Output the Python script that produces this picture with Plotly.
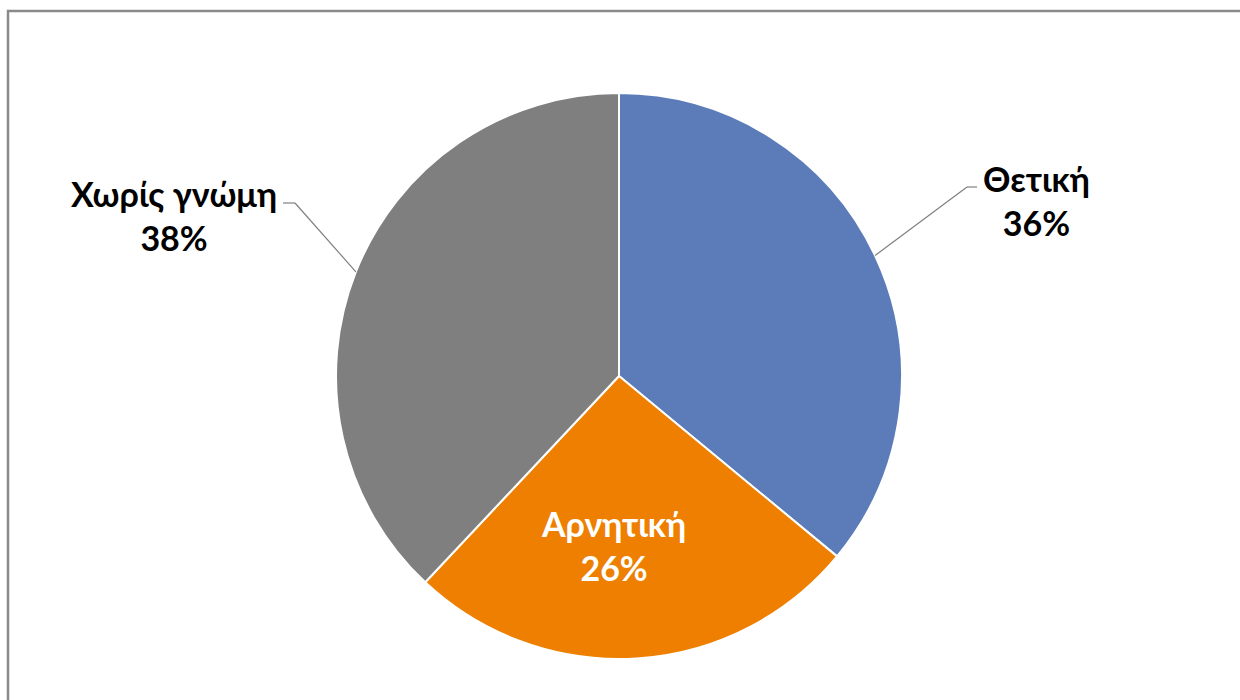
import math
import plotly.graph_objects as go

labels = ["Θετική", "Αρνητική", "Χωρίς γνώμη"]
values = [36, 26, 38]
colors = ["#5B7BB9", "#EE7F00", "#7F7F7F"]

W, H = 1240, 700
CX, CY, R = 619, 376, 283

FONT = "Lato, 'Open Sans', 'DejaVu Sans', sans-serif"
FSIZE = 34

# label placement (pixel layout, per slice): elbow point of leader and text anchor
label_layout = {
    "Θετική": dict(elbow=(967, 187), end=(977, 187), text=(981, 200), anchor="left"),
    "Χωρίς γνώμη": dict(elbow=(295, 203), end=(283, 203), text=(279, 216), anchor="right"),
}

fig = go.Figure(go.Pie(
    labels=labels, values=values, sort=False, direction="clockwise",
    rotation=0, marker=dict(colors=colors, line=dict(color="white", width=2)),
    textinfo="none", hoverinfo="label+percent", showlegend=False,
    domain=dict(x=[(CX - R) / W, (CX + R) / W], y=[1 - (CY + R) / H, 1 - (CY - R) / H]),
))

def px(x, y):
    return x / W, 1 - y / H

total = sum(values)
shapes = []
annotations = []
cum = 0
for lab, v in zip(labels, values):
    mid = (cum + v / 2) / total * 2 * math.pi
    cum += v
    pct = f"{round(v / total * 100)}%"
    sx, sy = math.sin(mid), -math.cos(mid)
    if lab not in label_layout:
        r = 0.6 * R
        x, y = px(CX + r * sx - 16, CY + r * sy)
        annotations.append(dict(x=x, y=y, xref="paper", yref="paper", text=f"<b>{lab}<br>{pct}</b>",
                                showarrow=False, font=dict(family=FONT, size=FSIZE, color="white"),
                                xanchor="center", yanchor="middle"))
        continue
    L = label_layout[lab]
    ex, ey = CX + R * sx, CY + R * sy
    pts = [(ex, ey), L["elbow"], L["end"]]
    for (a, b), (c, d) in zip(pts[:-1], pts[1:]):
        x0, y0 = px(a, b)
        x1, y1 = px(c, d)
        shapes.append(dict(type="line", xref="paper", yref="paper", x0=x0, y0=y0, x1=x1, y1=y1,
                           line=dict(color="#808080", width=1.2)))
    ax, ay = px(*L["text"])
    annotations.append(dict(x=ax, y=ay, xref="paper", yref="paper", text=f"<b>{lab}<br>{pct}</b>",
                            showarrow=False, font=dict(family=FONT, size=FSIZE, color="black"),
                            xanchor=L["anchor"], yanchor="middle", align="center"))

# chart border
bx0, by0 = px(8, 11)
shapes.append(dict(type="rect", xref="paper", yref="paper", x0=bx0, y0=-0.05, x1=1.05, y1=by0,
                   line=dict(color="#8A8A8A", width=2.5), fillcolor="rgba(0,0,0,0)"))

fig.update_layout(
    width=W, height=H, margin=dict(l=0, r=0, t=0, b=0),
    paper_bgcolor="white", plot_bgcolor="white",
    shapes=shapes, annotations=annotations,
)
fig.write_html("out.html", config={"displayModeBar": False},
               post_script="document.body.style.margin='0';document.body.style.overflow='hidden';")
